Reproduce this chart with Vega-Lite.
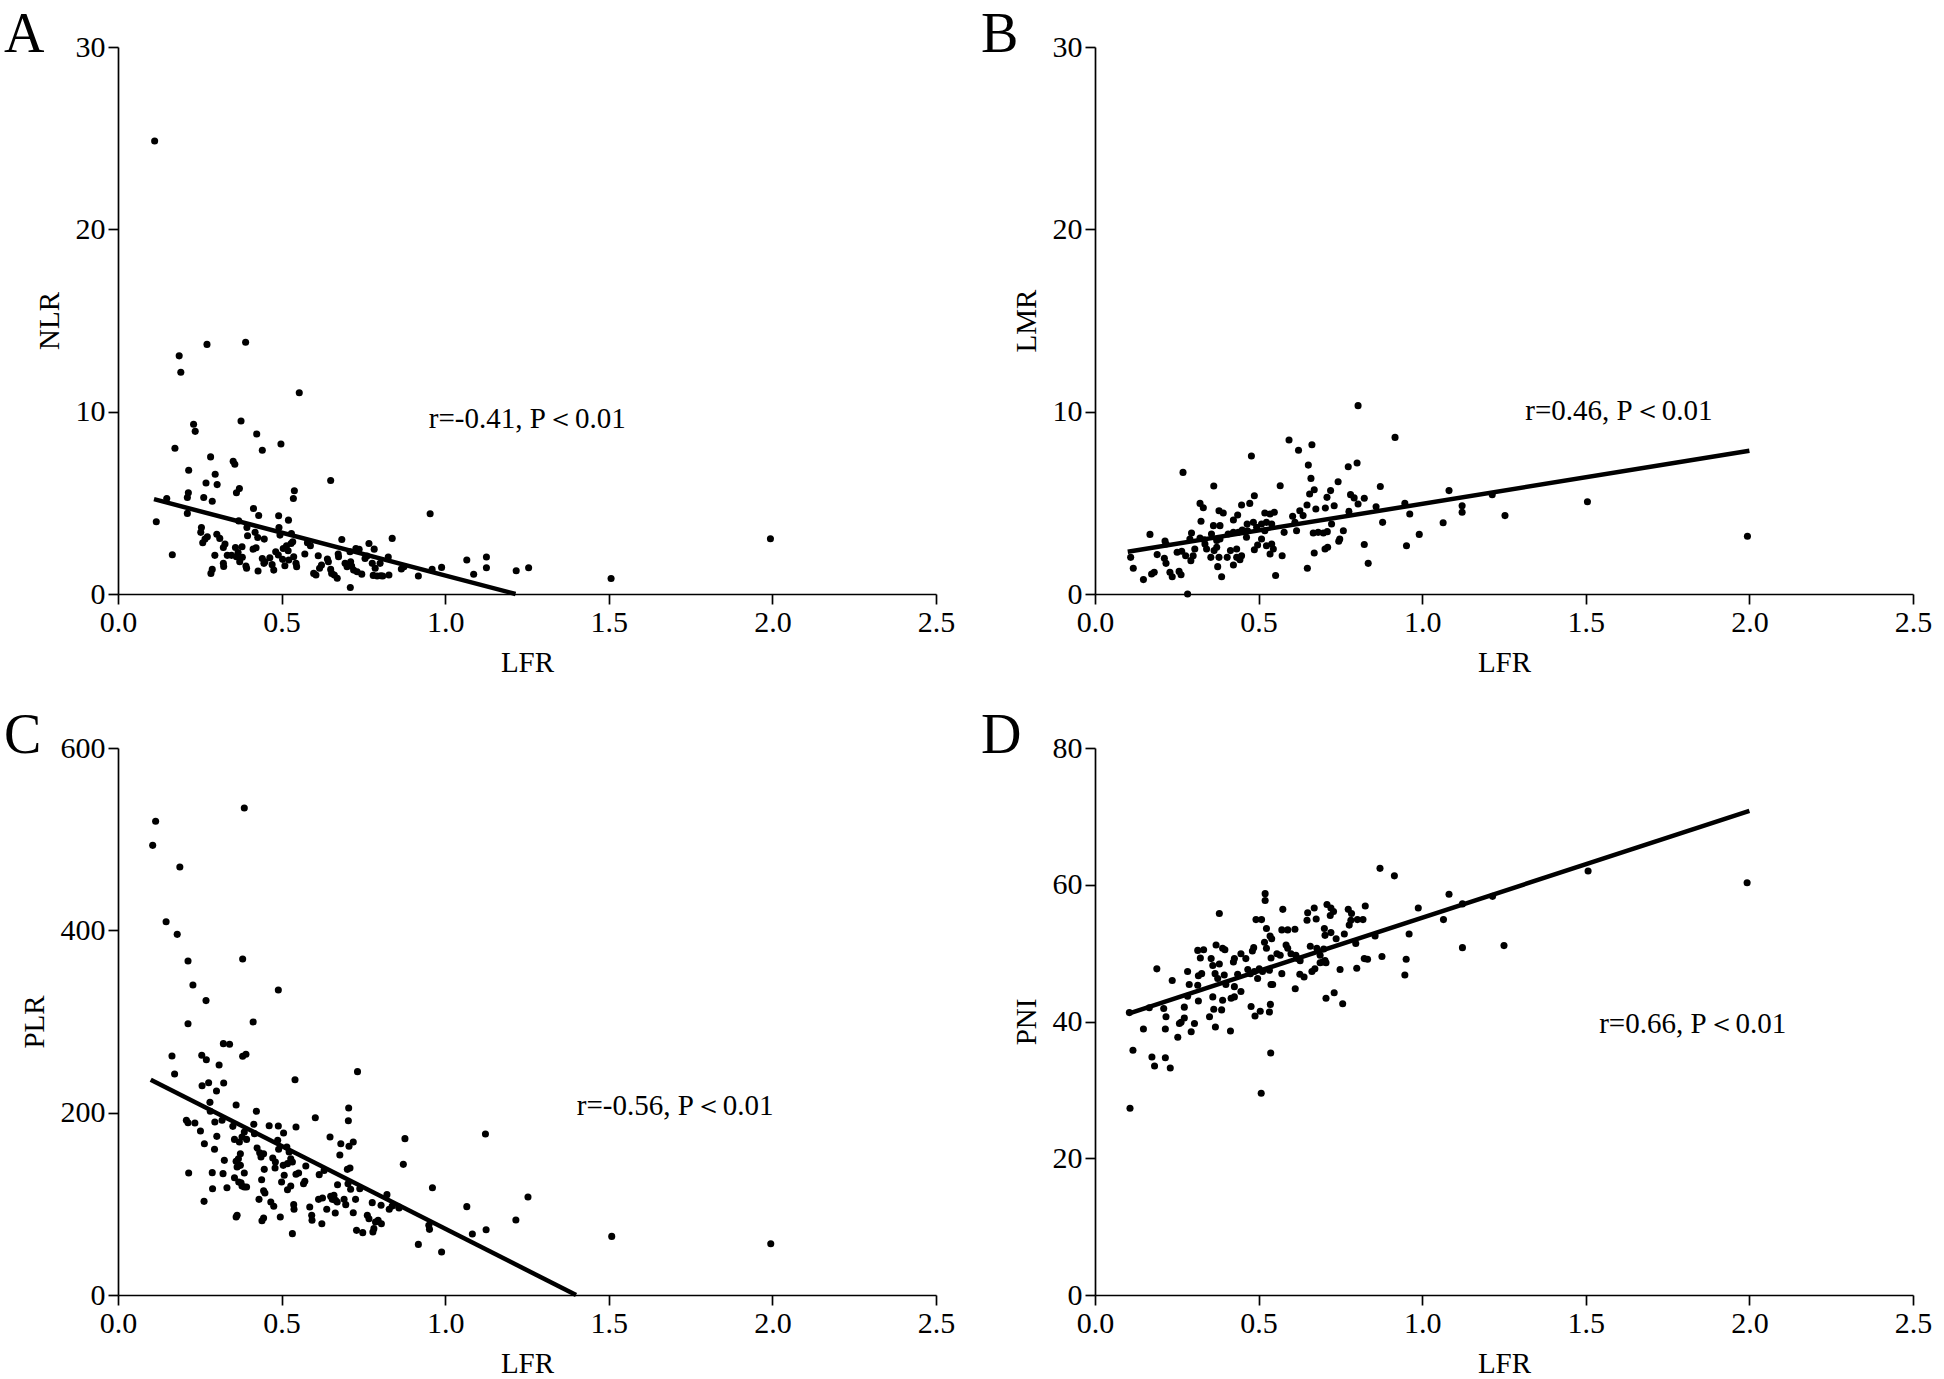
{
"$schema":"https://vega.github.io/schema/vega-lite/v6.json",
"background":"white",
"padding":{"left":4,"top":7,"right":10,"bottom":0},
"datasets":{
"A":[{"lfr":0.112,"v":24.84},{"lfr":0.187,"v":13.06},{"lfr":0.192,"v":12.16},{"lfr":0.272,"v":13.69},{"lfr":0.39,"v":13.81},{"lfr":0.554,"v":11.04},{"lfr":0.231,"v":9.31},{"lfr":0.236,"v":8.92},{"lfr":0.376,"v":9.49},{"lfr":0.424,"v":8.78},{"lfr":0.498,"v":8.23},{"lfr":0.441,"v":7.88},{"lfr":0.174,"v":7.99},{"lfr":0.283,"v":7.52},{"lfr":0.352,"v":7.28},{"lfr":0.357,"v":7.12},{"lfr":0.216,"v":6.79},{"lfr":0.297,"v":6.57},{"lfr":0.269,"v":6.09},{"lfr":0.303,"v":6.0},{"lfr":0.65,"v":6.22},{"lfr":0.371,"v":5.78},{"lfr":0.362,"v":5.55},{"lfr":0.215,"v":5.55},{"lfr":0.212,"v":5.29},{"lfr":0.262,"v":5.29},{"lfr":0.288,"v":5.09},{"lfr":0.149,"v":5.24},{"lfr":0.539,"v":5.66},{"lfr":0.536,"v":5.24},{"lfr":0.117,"v":3.96},{"lfr":0.212,"v":4.42},{"lfr":0.414,"v":4.69},{"lfr":0.43,"v":4.31},{"lfr":0.491,"v":4.29},{"lfr":0.521,"v":4.05},{"lfr":0.954,"v":4.4},{"lfr":0.369,"v":4.01},{"lfr":0.166,"v":2.15},
{"lfr":0.255,"v":3.65},{"lfr":0.253,"v":3.38},{"lfr":0.266,"v":3.01},{"lfr":0.273,"v":3.14},{"lfr":0.259,"v":2.81},{"lfr":0.302,"v":3.28},{"lfr":0.311,"v":3.05},{"lfr":0.327,"v":2.74},{"lfr":0.322,"v":2.55},{"lfr":0.394,"v":3.65},{"lfr":0.396,"v":3.19},{"lfr":0.419,"v":3.38},{"lfr":0.427,"v":3.1},{"lfr":0.447,"v":3.01},{"lfr":0.492,"v":3.65},{"lfr":0.495,"v":3.23},{"lfr":0.53,"v":3.32},{"lfr":0.534,"v":2.86},{"lfr":0.296,"v":2.12},{"lfr":0.288,"v":1.35},{"lfr":0.284,"v":1.13},{"lfr":0.322,"v":1.68},{"lfr":0.323,"v":1.51},{"lfr":0.334,"v":2.12},{"lfr":0.347,"v":2.12},{"lfr":0.359,"v":2.55},{"lfr":0.367,"v":2.28},{"lfr":0.379,"v":2.59},{"lfr":0.362,"v":2.04},{"lfr":0.372,"v":1.77},{"lfr":0.38,"v":2.01},{"lfr":0.391,"v":1.53},{"lfr":0.393,"v":1.41},{"lfr":0.413,"v":2.46},{"lfr":0.422,"v":2.54},{"lfr":0.428,"v":1.26},{"lfr":0.441,"v":1.95},{"lfr":0.449,"v":1.77},{"lfr":0.446,"v":1.68},{"lfr":0.464,"v":1.99},{"lfr":0.471,"v":1.61},{"lfr":0.476,"v":1.31},{"lfr":0.482,"v":2.32},{"lfr":0.49,"v":2.14},{"lfr":0.505,"v":2.5},{"lfr":0.515,"v":2.65},{"lfr":0.52,"v":2.37},{"lfr":0.529,"v":2.77},{"lfr":0.503,"v":1.9},{"lfr":0.522,"v":1.86},{"lfr":0.51,"v":1.55},{"lfr":0.537,"v":2.04},{"lfr":0.544,"v":1.68},{"lfr":0.546,"v":1.5},{"lfr":0.571,"v":2.19},{"lfr":0.579,"v":2.81},{"lfr":0.588,"v":2.65},{"lfr":0.598,"v":1.13},{"lfr":0.605,"v":1.04},{"lfr":0.612,"v":2.1},{"lfr":0.616,"v":1.41},{"lfr":0.622,"v":1.59},{"lfr":0.64,"v":1.92},{"lfr":0.643,"v":1.77},{"lfr":0.65,"v":1.35},{"lfr":0.653,"v":1.13},{"lfr":0.661,"v":1.04},{"lfr":0.67,"v":0.86},{"lfr":0.673,"v":2.19},{"lfr":0.674,"v":2.04},{"lfr":0.684,"v":2.99},{"lfr":0.694,"v":1.68},{"lfr":0.7,"v":1.5},{"lfr":0.709,"v":2.32},{"lfr":0.711,"v":1.77},{"lfr":0.714,"v":1.53},{"lfr":0.72,"v":1.31},{"lfr":0.727,"v":2.5},{"lfr":0.731,"v":1.22},{"lfr":0.737,"v":2.45},{"lfr":0.745,"v":1.09},{"lfr":0.755,"v":1.95},{"lfr":0.761,"v":2.08},{"lfr":0.767,"v":2.77},{"lfr":0.777,"v":1.68},{"lfr":0.78,"v":1.02},{"lfr":0.783,"v":2.46},{"lfr":0.786,"v":1.41},{"lfr":0.792,"v":0.99},{"lfr":0.801,"v":1.68},{"lfr":0.803,"v":1.0},{"lfr":0.809,"v":0.99},{"lfr":0.826,"v":2.03},{"lfr":0.828,"v":1.04},{"lfr":0.838,"v":3.05},{"lfr":0.866,"v":1.37},{"lfr":0.874,"v":1.5},{"lfr":0.918,"v":0.99},{"lfr":0.96,"v":1.35},{"lfr":0.989,"v":1.46},{"lfr":1.066,"v":1.86},{"lfr":1.087,"v":1.08},{"lfr":1.126,"v":2.03},{"lfr":1.126,"v":1.44},{"lfr":1.217,"v":1.28},{"lfr":1.255,"v":1.44},{"lfr":0.71,"v":0.36},{"lfr":1.994,"v":3.03},{"lfr":1.507,"v":0.85}],
"B":[{"lfr":0.804,"v":10.33},{"lfr":0.917,"v":8.59},{"lfr":0.593,"v":8.45},{"lfr":0.622,"v":7.88},{"lfr":0.663,"v":8.19},{"lfr":0.478,"v":7.57},{"lfr":0.652,"v":7.07},{"lfr":0.801,"v":7.18},{"lfr":0.774,"v":6.98},{"lfr":0.269,"v":6.67},{"lfr":0.66,"v":6.34},{"lfr":0.743,"v":6.16},{"lfr":0.566,"v":5.94},{"lfr":0.363,"v":5.92},{"lfr":0.872,"v":5.9},{"lfr":1.082,"v":5.67},{"lfr":0.487,"v":5.39},{"lfr":0.656,"v":5.48},{"lfr":0.67,"v":5.72},{"lfr":0.72,"v":5.67},{"lfr":0.709,"v":5.3},{"lfr":0.781,"v":5.45},{"lfr":0.792,"v":5.27},{"lfr":0.823,"v":5.25},{"lfr":0.804,"v":4.94},{"lfr":0.321,"v":4.97},{"lfr":0.331,"v":4.73},{"lfr":0.448,"v":4.88},{"lfr":0.473,"v":4.97},{"lfr":0.648,"v":4.88},{"lfr":0.675,"v":4.66},{"lfr":0.704,"v":4.72},{"lfr":0.731,"v":4.84},{"lfr":0.859,"v":4.79},{"lfr":0.947,"v":4.97},{"lfr":1.122,"v":4.84},{"lfr":1.122,"v":4.48},{"lfr":1.214,"v":5.45},{"lfr":1.253,"v":4.3},{"lfr":0.962,"v":4.39},{"lfr":0.379,"v":4.57},{"lfr":0.392,"v":4.44},{"lfr":0.519,"v":4.44},{"lfr":0.535,"v":4.39},{"lfr":0.548,"v":4.48},{"lfr":0.604,"v":4.26},{"lfr":0.626,"v":4.57},{"lfr":0.636,"v":4.3},{"lfr":0.776,"v":4.53},
{"lfr":0.324,"v":3.99},{"lfr":0.362,"v":3.75},{"lfr":0.382,"v":3.75},{"lfr":0.423,"v":4.06},{"lfr":0.436,"v":4.33},{"lfr":0.465,"v":3.84},{"lfr":0.484,"v":3.93},{"lfr":0.494,"v":3.66},{"lfr":0.509,"v":3.84},{"lfr":0.524,"v":3.93},{"lfr":0.54,"v":3.84},{"lfr":0.519,"v":3.47},{"lfr":0.578,"v":3.38},{"lfr":0.611,"v":3.93},{"lfr":0.616,"v":3.47},{"lfr":0.667,"v":3.35},{"lfr":0.682,"v":3.38},{"lfr":0.698,"v":3.35},{"lfr":0.71,"v":3.42},{"lfr":0.723,"v":3.84},{"lfr":0.759,"v":3.47},{"lfr":0.748,"v":3.02},{"lfr":0.745,"v":2.89},{"lfr":0.879,"v":3.93},{"lfr":0.991,"v":3.27},{"lfr":1.064,"v":3.91},{"lfr":0.214,"v":2.91},{"lfr":0.217,"v":2.74},{"lfr":0.295,"v":3.35},{"lfr":0.29,"v":3.02},{"lfr":0.321,"v":3.07},{"lfr":0.334,"v":2.98},{"lfr":0.336,"v":2.74},{"lfr":0.356,"v":3.29},{"lfr":0.372,"v":2.93},{"lfr":0.382,"v":3.02},{"lfr":0.407,"v":3.29},{"lfr":0.423,"v":3.38},{"lfr":0.438,"v":3.38},{"lfr":0.45,"v":3.51},{"lfr":0.463,"v":3.11},{"lfr":0.466,"v":3.47},{"lfr":0.212,"v":1.96},{"lfr":0.217,"v":1.68},{"lfr":0.229,"v":1.19},{"lfr":0.236,"v":0.95},{"lfr":0.257,"v":1.24},{"lfr":0.263,"v":1.06},{"lfr":0.251,"v":2.29},{"lfr":0.265,"v":2.34},{"lfr":0.277,"v":2.1},{"lfr":0.293,"v":1.83},{"lfr":0.3,"v":2.1},{"lfr":0.305,"v":2.47},{"lfr":0.341,"v":2.47},{"lfr":0.354,"v":2.01},{"lfr":0.364,"v":2.38},{"lfr":0.372,"v":2.56},{"lfr":0.379,"v":2.01},{"lfr":0.375,"v":1.5},{"lfr":0.387,"v":0.95},{"lfr":0.404,"v":2.01},{"lfr":0.414,"v":2.38},{"lfr":0.423,"v":1.59},{"lfr":0.433,"v":2.01},{"lfr":0.443,"v":1.88},{"lfr":0.448,"v":2.1},{"lfr":0.433,"v":2.47},{"lfr":0.487,"v":2.43},{"lfr":0.497,"v":2.69},{"lfr":0.509,"v":3.02},{"lfr":0.524,"v":2.65},{"lfr":0.535,"v":2.19},{"lfr":0.54,"v":2.74},{"lfr":0.545,"v":2.47},{"lfr":0.552,"v":1.01},{"lfr":0.572,"v":2.1},{"lfr":0.649,"v":1.41},{"lfr":0.67,"v":2.25},{"lfr":0.703,"v":2.47},{"lfr":0.711,"v":2.56},{"lfr":0.823,"v":2.71},{"lfr":0.835,"v":1.68},{"lfr":0.952,"v":2.65},{"lfr":0.168,"v":3.27},{"lfr":0.109,"v":2.01},{"lfr":0.117,"v":1.41},{"lfr":0.148,"v":0.79},{"lfr":0.173,"v":1.1},{"lfr":0.181,"v":1.19},{"lfr":0.19,"v":2.16},{"lfr":0.283,"v":0.0},{"lfr":1.505,"v":5.06},{"lfr":1.994,"v":3.17}],
"C":[{"lfr":0.115,"v":519.6},{"lfr":0.386,"v":534.2},{"lfr":0.106,"v":493.2},{"lfr":0.189,"v":469.5},{"lfr":0.147,"v":409.5},{"lfr":0.181,"v":395.6},{"lfr":0.214,"v":366.4},{"lfr":0.381,"v":368.6},{"lfr":0.229,"v":340.0},{"lfr":0.269,"v":322.9},{"lfr":0.49,"v":334.6},{"lfr":0.413,"v":299.5},{"lfr":0.214,"v":297.6},{"lfr":0.322,"v":275.7},{"lfr":0.341,"v":275.0},{"lfr":0.165,"v":262.2},{"lfr":0.256,"v":262.9},{"lfr":0.27,"v":258.1},{"lfr":0.381,"v":261.8},{"lfr":0.391,"v":264.0},{"lfr":0.309,"v":252.3},{"lfr":0.173,"v":242.4},{"lfr":0.732,"v":245.0},{"lfr":0.257,"v":229.6},{"lfr":0.277,"v":232.9},{"lfr":0.541,"v":236.2},{"lfr":0.323,"v":232.5},{"lfr":0.301,"v":223.8},{"lfr":0.281,"v":211.3},{"lfr":0.282,"v":201.5},{"lfr":0.361,"v":208.4},{"lfr":0.423,"v":201.5},{"lfr":0.705,"v":205.1},{"lfr":0.603,"v":194.5},{"lfr":0.704,"v":191.2},{"lfr":0.209,"v":191.6},{"lfr":0.214,"v":189.0},{"lfr":0.235,"v":188.7},{"lfr":0.296,"v":189.8},{"lfr":0.318,"v":191.6},{"lfr":0.351,"v":185.0},{"lfr":0.252,"v":179.9},{"lfr":0.415,"v":187.2},{"lfr":0.417,"v":177.0},{"lfr":0.462,"v":185.7},{"lfr":0.49,"v":185.4},{"lfr":0.506,"v":177.7},{"lfr":0.544,"v":184.3},{"lfr":0.302,"v":174.0},{"lfr":0.264,"v":166.0},{"lfr":0.295,"v":159.8},{"lfr":0.648,"v":173.3},{"lfr":0.681,"v":166.0},{"lfr":0.678,"v":153.6},{"lfr":0.719,"v":167.8},{"lfr":0.706,"v":163.1},{"lfr":0.877,"v":171.5},{"lfr":1.123,"v":176.6},{"lfr":0.872,"v":143.3},{"lfr":0.961,"v":117.7},{"lfr":1.066,"v":96.9},{"lfr":1.253,"v":107.5},{"lfr":1.216,"v":82.3},{"lfr":1.125,"v":71.6},{"lfr":1.083,"v":66.9},{"lfr":0.95,"v":76.4},{"lfr":0.952,"v":72.0},{"lfr":0.918,"v":55.5},{"lfr":0.989,"v":47.2},{"lfr":0.859,"v":95.4},{"lfr":1.509,"v":64.3},{"lfr":1.995,"v":56.3},
{"lfr":0.386,"v":178.8},{"lfr":0.379,"v":173.3},{"lfr":0.393,"v":170.7},{"lfr":0.371,"v":167.8},{"lfr":0.356,"v":170.7},{"lfr":0.488,"v":169.7},{"lfr":0.491,"v":159.8},{"lfr":0.425,"v":161.2},{"lfr":0.433,"v":156.1},{"lfr":0.437,"v":151.4},{"lfr":0.445,"v":155.0},{"lfr":0.473,"v":150.3},{"lfr":0.481,"v":145.9},{"lfr":0.48,"v":139.3},{"lfr":0.505,"v":142.2},{"lfr":0.516,"v":162.3},{"lfr":0.523,"v":156.9},{"lfr":0.528,"v":149.5},{"lfr":0.518,"v":144.1},{"lfr":0.533,"v":145.9},{"lfr":0.374,"v":155.0},{"lfr":0.368,"v":149.5},{"lfr":0.361,"v":146.6},{"lfr":0.364,"v":140.4},{"lfr":0.374,"v":142.2},{"lfr":0.386,"v":133.8},{"lfr":0.325,"v":147.7},{"lfr":0.321,"v":133.1},{"lfr":0.288,"v":134.2},{"lfr":0.216,"v":133.8},{"lfr":0.356,"v":128.7},{"lfr":0.376,"v":123.2},{"lfr":0.386,"v":118.5},{"lfr":0.393,"v":118.5},{"lfr":0.447,"v":137.8},{"lfr":0.439,"v":126.5},{"lfr":0.445,"v":114.4},{"lfr":0.449,"v":111.9},{"lfr":0.431,"v":104.9},{"lfr":0.5,"v":123.9},{"lfr":0.508,"v":131.3},{"lfr":0.518,"v":115.5},{"lfr":0.528,"v":119.6},{"lfr":0.544,"v":132.4},{"lfr":0.552,"v":133.8},{"lfr":0.333,"v":117.7},{"lfr":0.289,"v":116.6},{"lfr":0.263,"v":102.7},{"lfr":0.574,"v":141.5},{"lfr":0.567,"v":122.1},{"lfr":0.571,"v":124.7},{"lfr":0.615,"v":132.0},{"lfr":0.63,"v":136.7},{"lfr":0.613,"v":104.9},{"lfr":0.625,"v":106.4},{"lfr":0.671,"v":121.0},{"lfr":0.701,"v":137.8},{"lfr":0.709,"v":139.3},{"lfr":0.703,"v":122.1},{"lfr":0.711,"v":115.9},{"lfr":0.726,"v":104.9},{"lfr":0.739,"v":116.6},{"lfr":0.65,"v":108.2},{"lfr":0.655,"v":104.9},{"lfr":0.66,"v":109.3},{"lfr":0.665,"v":103.8},{"lfr":0.67,"v":102.0},{"lfr":0.691,"v":104.9},{"lfr":0.696,"v":99.1},{"lfr":0.719,"v":90.3},{"lfr":0.729,"v":70.9},{"lfr":0.748,"v":68.4},{"lfr":0.777,"v":101.3},{"lfr":0.762,"v":87.4},{"lfr":0.767,"v":83.7},{"lfr":0.779,"v":69.1},{"lfr":0.787,"v":80.1},{"lfr":0.795,"v":81.9},{"lfr":0.805,"v":78.2},{"lfr":0.782,"v":72.8},{"lfr":0.822,"v":110.1},{"lfr":0.804,"v":98.4},{"lfr":0.829,"v":94.0},{"lfr":0.838,"v":97.6},{"lfr":0.858,"v":96.5},{"lfr":0.586,"v":96.5},{"lfr":0.592,"v":87.4},{"lfr":0.593,"v":81.9},{"lfr":0.623,"v":78.2},{"lfr":0.638,"v":94.0},{"lfr":0.664,"v":89.9},{"lfr":0.533,"v":67.3},{"lfr":0.537,"v":99.1},{"lfr":0.538,"v":94.0},{"lfr":0.496,"v":85.6},{"lfr":0.467,"v":102.0},{"lfr":0.476,"v":97.3},{"lfr":0.44,"v":81.5},{"lfr":0.445,"v":84.5},{"lfr":0.364,"v":87.4},{"lfr":0.361,"v":85.6},{"lfr":0.369,"v":123.9},{"lfr":0.379,"v":119.6}],
"D":[{"lfr":0.871,"v":62.4},{"lfr":0.915,"v":61.3},{"lfr":0.52,"v":58.7},{"lfr":0.52,"v":57.7},{"lfr":1.082,"v":58.6},{"lfr":1.123,"v":57.2},{"lfr":1.215,"v":58.3},{"lfr":0.38,"v":55.8},{"lfr":0.574,"v":56.4},{"lfr":0.65,"v":55.9},{"lfr":0.67,"v":56.6},{"lfr":0.648,"v":54.8},{"lfr":0.676,"v":55.0},{"lfr":0.709,"v":57.1},{"lfr":0.721,"v":56.6},{"lfr":0.729,"v":56.1},{"lfr":0.719,"v":55.5},{"lfr":0.988,"v":56.6},{"lfr":1.065,"v":54.9},{"lfr":1.123,"v":50.8},{"lfr":1.25,"v":51.1},{"lfr":1.507,"v":62.0},{"lfr":1.993,"v":60.3},
{"lfr":0.774,"v":56.4},{"lfr":0.784,"v":55.8},{"lfr":0.782,"v":54.8},{"lfr":0.777,"v":54.1},{"lfr":0.802,"v":54.9},{"lfr":0.819,"v":54.9},{"lfr":0.826,"v":56.9},{"lfr":0.492,"v":54.9},{"lfr":0.509,"v":54.9},{"lfr":0.524,"v":53.6},{"lfr":0.535,"v":52.5},{"lfr":0.54,"v":52.1},{"lfr":0.571,"v":53.4},{"lfr":0.589,"v":53.4},{"lfr":0.611,"v":53.5},{"lfr":0.701,"v":53.6},{"lfr":0.703,"v":52.6},{"lfr":0.721,"v":53.0},{"lfr":0.737,"v":52.1},{"lfr":0.762,"v":52.8},{"lfr":0.856,"v":52.5},{"lfr":0.96,"v":52.8},{"lfr":0.37,"v":51.2},{"lfr":0.39,"v":50.7},{"lfr":0.397,"v":50.5},{"lfr":0.314,"v":50.4},{"lfr":0.332,"v":50.5},{"lfr":0.446,"v":49.9},{"lfr":0.426,"v":49.2},{"lfr":0.423,"v":48.7},{"lfr":0.485,"v":50.8},{"lfr":0.481,"v":50.3},{"lfr":0.518,"v":51.6},{"lfr":0.524,"v":50.7},{"lfr":0.538,"v":49.3},{"lfr":0.556,"v":49.9},{"lfr":0.566,"v":49.7},{"lfr":0.584,"v":51.2},{"lfr":0.589,"v":50.7},{"lfr":0.599,"v":49.9},{"lfr":0.614,"v":49.7},{"lfr":0.619,"v":49.2},{"lfr":0.627,"v":48.9},{"lfr":0.658,"v":51.0},{"lfr":0.678,"v":50.7},{"lfr":0.688,"v":49.7},{"lfr":0.699,"v":50.6},{"lfr":0.696,"v":48.7},{"lfr":0.703,"v":48.9},{"lfr":0.797,"v":51.4},{"lfr":0.823,"v":49.2},{"lfr":0.833,"v":49.1},{"lfr":0.877,"v":49.5},{"lfr":0.951,"v":49.1},{"lfr":0.947,"v":46.8},{"lfr":0.189,"v":47.7},{"lfr":0.236,"v":46.0},{"lfr":0.283,"v":47.3},{"lfr":0.322,"v":49.3},{"lfr":0.326,"v":47.0},{"lfr":0.316,"v":46.7},{"lfr":0.355,"v":49.2},{"lfr":0.36,"v":48.2},{"lfr":0.367,"v":47.0},{"lfr":0.375,"v":46.3},{"lfr":0.38,"v":48.4},{"lfr":0.395,"v":46.8},{"lfr":0.4,"v":45.4},{"lfr":0.426,"v":45.1},{"lfr":0.436,"v":46.9},{"lfr":0.446,"v":44.4},{"lfr":0.426,"v":43.6},{"lfr":0.416,"v":43.4},{"lfr":0.461,"v":49.2},{"lfr":0.467,"v":47.6},{"lfr":0.475,"v":47.0},{"lfr":0.487,"v":47.3},{"lfr":0.497,"v":46.3},{"lfr":0.502,"v":47.7},{"lfr":0.512,"v":47.3},{"lfr":0.533,"v":47.5},{"lfr":0.538,"v":45.4},{"lfr":0.571,"v":47.0},{"lfr":0.626,"v":46.9},{"lfr":0.639,"v":46.5},{"lfr":0.663,"v":47.3},{"lfr":0.672,"v":47.7},{"lfr":0.688,"v":48.6},{"lfr":0.706,"v":48.6},{"lfr":0.612,"v":44.8},{"lfr":0.749,"v":47.6},{"lfr":0.8,"v":47.8},{"lfr":0.706,"v":43.4},{"lfr":0.731,"v":44.2},{"lfr":0.757,"v":42.6},{"lfr":0.477,"v":42.2},{"lfr":0.505,"v":41.5},{"lfr":0.489,"v":40.8},{"lfr":0.536,"v":42.5},{"lfr":0.533,"v":41.4},{"lfr":0.543,"v":45.4},{"lfr":0.105,"v":41.3},{"lfr":0.166,"v":42.0},{"lfr":0.21,"v":41.9},{"lfr":0.217,"v":40.7},{"lfr":0.273,"v":42.1},{"lfr":0.273,"v":40.5},{"lfr":0.283,"v":43.7},{"lfr":0.314,"v":45.3},{"lfr":0.316,"v":43.0},{"lfr":0.288,"v":45.4},{"lfr":0.258,"v":39.7},{"lfr":0.263,"v":39.9},{"lfr":0.304,"v":39.7},{"lfr":0.294,"v":38.5},{"lfr":0.253,"v":37.7},{"lfr":0.215,"v":38.9},{"lfr":0.148,"v":38.9},{"lfr":0.36,"v":43.6},{"lfr":0.35,"v":40.7},{"lfr":0.368,"v":39.2},{"lfr":0.363,"v":41.8},{"lfr":0.387,"v":41.7},{"lfr":0.39,"v":43.1},{"lfr":0.414,"v":38.6},{"lfr":0.116,"v":35.8},{"lfr":0.174,"v":34.8},{"lfr":0.182,"v":33.5},{"lfr":0.215,"v":34.7},{"lfr":0.23,"v":33.2},{"lfr":0.537,"v":35.4},{"lfr":0.508,"v":29.5},{"lfr":0.107,"v":27.3}],
"fitA":[{"lfr":0.11,"v":5.2},{"lfr":1.215,"v":0}],
"fitB":[{"lfr":0.1,"v":2.32},{"lfr":2.0,"v":7.86}],
"fitC":[{"lfr":0.1,"v":236},{"lfr":1.4,"v":0}],
"fitD":[{"lfr":0.105,"v":41.2},{"lfr":2.0,"v":70.8}],
"noteA":[{"lfr":0.95,"v":9.6,"label":"r=-0.41, P＜0.01"}],
"noteB":[{"lfr":1.315,"v":10.05,"label":"r=0.46, P＜0.01"}],
"noteC":[{"lfr":1.402,"v":207.7,"label":"r=-0.56, P＜0.01"}],
"noteD":[{"lfr":1.541,"v":39.7,"label":"r=0.66, P＜0.01"}]
},
"columns":2,
"spacing":{"row":154,"column":159},
"bounds":"flush",
"concat":[
{"width":818,"height":547,"title":{"text":"A"},
"layer":[
{"data":{"name":"A"},"mark":{"type":"circle","size":50,"color":"black","opacity":1},
"encoding":{"x":{"field":"lfr","type":"quantitative","scale":{"domain":[0,2.5],"nice":false},"axis":{"title":"LFR","values":[0,0.5,1,1.5,2,2.5],"format":".1f"}},
"y":{"field":"v","type":"quantitative","scale":{"domain":[0,30],"nice":false},"axis":{"title":"NLR","values":[0,10,20,30]}}}},
{"data":{"name":"fitA"},"mark":{"type":"line","color":"black","strokeWidth":4.5},"encoding":{"x":{"field":"lfr","type":"quantitative"},"y":{"field":"v","type":"quantitative"}}},
{"data":{"name":"noteA"},"mark":{"type":"text","align":"left","baseline":"middle","fontSize":29,"font":"Liberation Serif","color":"black"},"encoding":{"x":{"field":"lfr","type":"quantitative"},"y":{"field":"v","type":"quantitative"},"text":{"field":"label"}}}
]},
{"width":818,"height":547,"title":{"text":"B"},
"layer":[
{"data":{"name":"B"},"mark":{"type":"circle","size":50,"color":"black","opacity":1},
"encoding":{"x":{"field":"lfr","type":"quantitative","scale":{"domain":[0,2.5],"nice":false},"axis":{"title":"LFR","values":[0,0.5,1,1.5,2,2.5],"format":".1f"}},
"y":{"field":"v","type":"quantitative","scale":{"domain":[0,30],"nice":false},"axis":{"title":"LMR","values":[0,10,20,30]}}}},
{"data":{"name":"fitB"},"mark":{"type":"line","color":"black","strokeWidth":4.5},"encoding":{"x":{"field":"lfr","type":"quantitative"},"y":{"field":"v","type":"quantitative"}}},
{"data":{"name":"noteB"},"mark":{"type":"text","align":"left","baseline":"middle","fontSize":29,"font":"Liberation Serif","color":"black"},"encoding":{"x":{"field":"lfr","type":"quantitative"},"y":{"field":"v","type":"quantitative"},"text":{"field":"label"}}}
]},
{"width":818,"height":547,"title":{"text":"C"},
"layer":[
{"data":{"name":"C"},"mark":{"type":"circle","size":50,"color":"black","opacity":1},
"encoding":{"x":{"field":"lfr","type":"quantitative","scale":{"domain":[0,2.5],"nice":false},"axis":{"title":"LFR","values":[0,0.5,1,1.5,2,2.5],"format":".1f"}},
"y":{"field":"v","type":"quantitative","scale":{"domain":[0,600],"nice":false},"axis":{"title":"PLR","values":[0,200,400,600]}}}},
{"data":{"name":"fitC"},"mark":{"type":"line","color":"black","strokeWidth":4.5},"encoding":{"x":{"field":"lfr","type":"quantitative"},"y":{"field":"v","type":"quantitative"}}},
{"data":{"name":"noteC"},"mark":{"type":"text","align":"left","baseline":"middle","fontSize":29,"font":"Liberation Serif","color":"black"},"encoding":{"x":{"field":"lfr","type":"quantitative"},"y":{"field":"v","type":"quantitative"},"text":{"field":"label"}}}
]},
{"width":818,"height":547,"title":{"text":"D"},
"layer":[
{"data":{"name":"D"},"mark":{"type":"circle","size":50,"color":"black","opacity":1},
"encoding":{"x":{"field":"lfr","type":"quantitative","scale":{"domain":[0,2.5],"nice":false},"axis":{"title":"LFR","values":[0,0.5,1,1.5,2,2.5],"format":".1f"}},
"y":{"field":"v","type":"quantitative","scale":{"domain":[0,80],"nice":false},"axis":{"title":"PNI","values":[0,20,40,60,80]}}}},
{"data":{"name":"fitD"},"mark":{"type":"line","color":"black","strokeWidth":4.5},"encoding":{"x":{"field":"lfr","type":"quantitative"},"y":{"field":"v","type":"quantitative"}}},
{"data":{"name":"noteD"},"mark":{"type":"text","align":"left","baseline":"middle","fontSize":29,"font":"Liberation Serif","color":"black"},"encoding":{"x":{"field":"lfr","type":"quantitative"},"y":{"field":"v","type":"quantitative"},"text":{"field":"label"}}}
]}
],
"config":{
"view":{"stroke":null},
"title":{"anchor":"start","frame":"group","dx":-114,"offset":-32,"fontSize":56,"font":"Liberation Serif","fontWeight":"normal","color":"black","baseline":"alphabetic"},
"axis":{"grid":false,"domainColor":"black","domainWidth":1.7,"tickColor":"black","tickWidth":1.7,"tickSize":10,"labelFont":"Liberation Serif","labelFontSize":30,"labelColor":"black","labelPadding":3,"titleFont":"Liberation Serif","titleFontSize":29,"titleFontWeight":"normal","titleColor":"black","titlePadding":11,"labelFlush":false,"labelOverlap":false}
}
}
